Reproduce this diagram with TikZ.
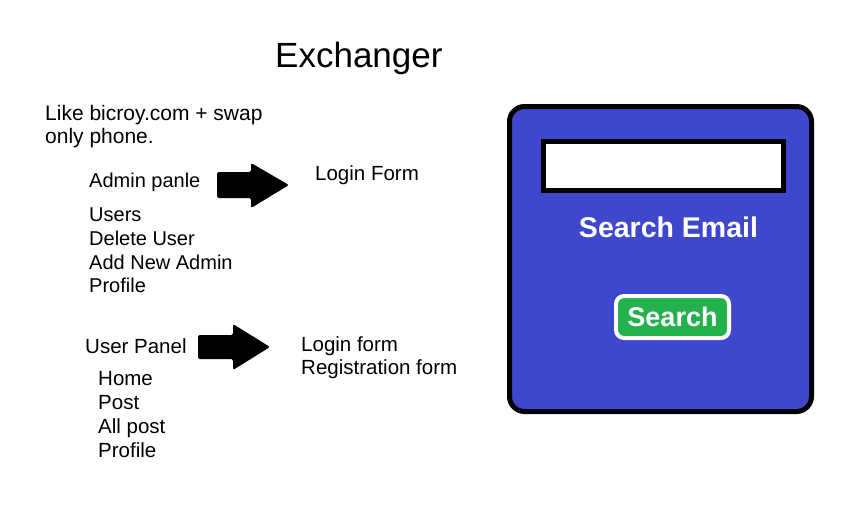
\documentclass[tikz,border=0pt]{standalone}
\usepackage{fontspec}
\setmainfont{Liberation Sans}
\usetikzlibrary{
    positioning,
    shapes.geometric
}
\definecolor{panelblue}{HTML}{3F48CC}
\definecolor{buttongreen}{HTML}{22B14C}

\begin{document}
\begin{tikzpicture}[x=1pt, y=-1pt,
    note/.style={anchor=base west, inner sep=0pt, font=\fontsize{20.5}{24}\selectfont},
    whitebold/.style={text=white, font=\bfseries\fontsize{28.5}{32}\selectfont}]
    \useasboundingbox (0,0) rectangle (846,525);
    % title
    \node[anchor=base west, inner sep=0pt, font=\fontsize{35}{40}\selectfont] (title) at (275,67) {Exchanger};
    % notes on the left
    \node[note, font=\fontsize{21}{24}\selectfont] (idea1) at (45,120) {Like bicroy.com + swap};
    \node[note, font=\fontsize{21}{24}\selectfont] (idea2) at (45,143) {only phone.};
    % admin side
    \node[note, font=\fontsize{20}{24}\selectfont] (admin) at (89,187) {Admin panle};
    \node[note] (adminlogin) at (315,180) {Login Form};
    \node[note, font=\fontsize{20}{24}\selectfont] (users) at (89,221) {Users};
    \node[note, font=\fontsize{20}{24}\selectfont] (deluser) at (89,245) {Delete User};
    \node[note, font=\fontsize{20}{24}\selectfont] (addadmin) at (89,269) {Add New Admin};
    \node[note, font=\fontsize{20}{24}\selectfont] (adminprofile) at (89,292) {Profile};
    \fill[rounded corners=2pt]
        (217,172) -- (251,172) -- (251,163) -- (289,185) -- (251,208)
        -- (251,198) -- (217,198) -- cycle;
    % user side
    \node[note] (user) at (85,353) {User Panel};
    \node[note] (userlogin) at (301,351) {Login form};
    \node[note] (register) at (301,374) {Registration form};
    \node[note] (home) at (98,385) {Home};
    \node[note] (post) at (98,409) {Post};
    \node[note] (allpost) at (98,433) {All post};
    \node[note] (userprofile) at (98,457) {Profile};
    \fill[rounded corners=2pt]
        (198,335) -- (233,335) -- (233,324) -- (270,347) -- (233,370)
        -- (233,359) -- (198,359) -- cycle;
    % search panel
    \node[draw, line width=5pt, fill=panelblue, rounded corners=15pt,
        minimum width=302pt, minimum height=305pt] (panel) at (660.5,259) {};
    \node[draw, line width=5pt, fill=white, minimum width=240pt,
        minimum height=49pt] (emailbox) at (663.5,166) {};
    \node[whitebold, anchor=base, inner sep=0pt] (searchlabel) at (668.5,237) {Search Email};
    \node[whitebold, draw=white, line width=4pt, fill=buttongreen, rounded corners=8pt,
        font=\bfseries\fontsize{27}{30}\selectfont,
        minimum width=113pt, minimum height=42pt, inner sep=0pt] (searchbtn) at (672.5,317) {Search};
\end{tikzpicture}
\end{document}
